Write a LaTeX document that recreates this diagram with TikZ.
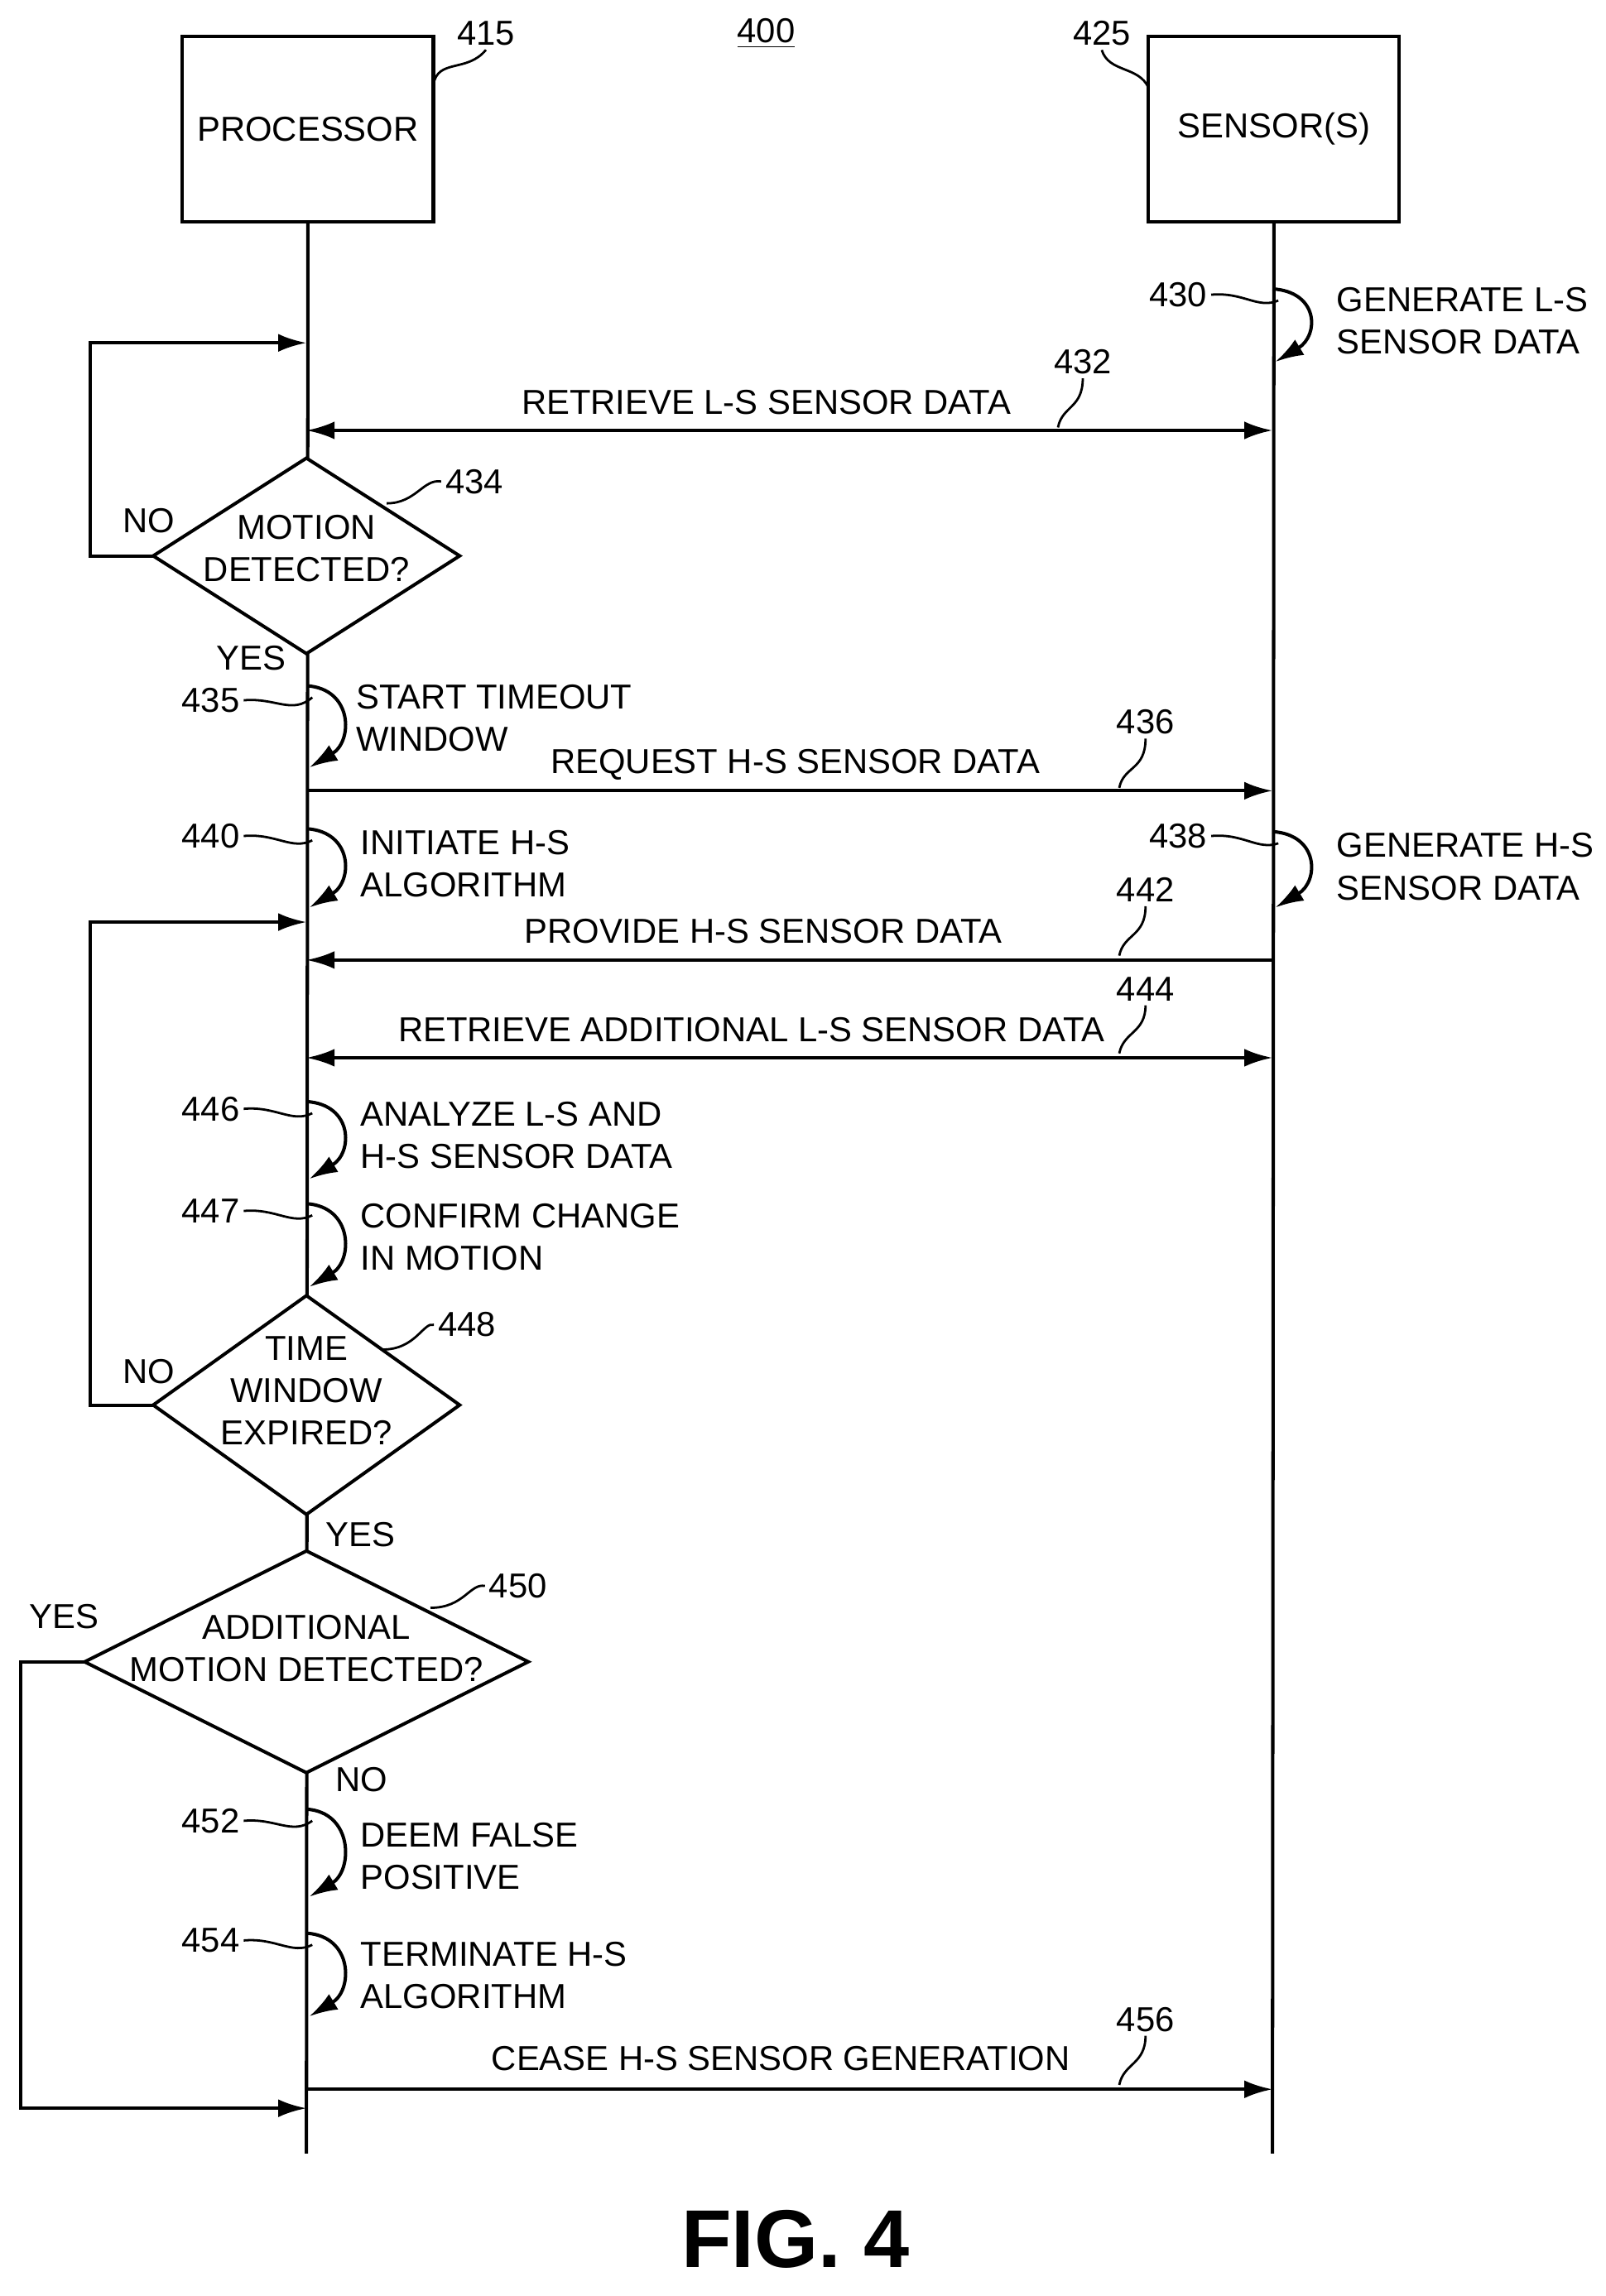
\documentclass[tikz,border=0pt]{standalone}
\usepackage{fontspec}
\setmainfont{Liberation Sans}
\usetikzlibrary{arrows.meta,shapes.geometric}
\begin{document}
\begin{tikzpicture}[x=0.02cm,y=-0.02cm,line width=1.3pt,
 txt/.style={font=\fontsize{13.5}{16.5}\selectfont,inner sep=0pt},
 lbl/.style={font=\fontsize{13.5}{16.5}\selectfont,inner sep=1pt},
 box/.style={draw,minimum width=3.44cm,minimum height=2.54cm,inner sep=0pt,font=\fontsize{13.5}{16.5}\selectfont},
 arr/.style={-{Latex[length=11pt,width=7pt]}},
 darr/.style={{Latex[length=11pt,width=7pt]}-{Latex[length=11pt,width=7pt]}},
 lead/.style={line width=0.9pt}]
\useasboundingbox (0,0) rectangle (1100,1573.7);
% boxes
\node[box] (proc) at (211,88.5) {PROCESSOR};
\node[box] (sens) at (873,88.5) {SENSOR(S)};
\node[lbl] (l415) at (333,23) {415};
\node[lbl] (l425) at (755,23) {425};
\node[lbl] (l400) at (525,23) {\underline{400}};
\draw[lead] (l415.south) .. controls (320,50) and (300,40) .. (297,58);
\draw[lead] (l425.south) .. controls (760,50) and (780,45) .. (787,60);
\coordinate (pb) at (210,1476);
\coordinate (sb) at (872,1476);
\draw (proc.south) -- (pb);
\draw (sens.south) -- (sb);
% self arrows
\newcommand{\selfarr}[6]{% x, y1, y2, label, labelx, labely
 \coordinate (s#4a) at (#1,#2); \coordinate (s#4b) at (#1+2,#3);
 \draw[arr] (s#4a) .. controls (#1+32,#2+2) and (#1+32,#3-18) .. (s#4b);
 \node[lbl,anchor=east] (n#4) at (#5,#6) {#4};
 \draw[lead] (n#4.east) .. controls (#5+22,#6-2) and (#1-10,#6+10) .. (#1+4,#2+8);}
% diamond: name, cx, cy, halfw, halfh
\newcommand{\dmd}[5]{%
 \coordinate (#1-n) at (#2,#3-#5); \coordinate (#1-s) at (#2,#3+#5);
 \coordinate (#1-w) at (#2-#4,#3); \coordinate (#1-e) at (#2+#4,#3);
 \draw[fill=white] (#1-n) -- (#1-e) -- (#1-s) -- (#1-w) -- cycle;}
\selfarr{872}{198}{248}{430}{830}{202}
\node[txt,anchor=west,align=left] at (915,220) {GENERATE L-S\\SENSOR DATA};
% 432
\coordinate (a432) at (210,295); \coordinate (b432) at (872,295);
\draw[darr] (a432) -- (b432);
\node[txt] at (525,276) {RETRIEVE L-S SENSOR DATA};
\node[lbl] (n432) at (742,248) {432};
\draw[lead] (n432.south) .. controls (742,280) and (728,278) .. (725,293);
% diamond 434
\dmd{d434}{210}{381}{105}{67}
\node[txt,align=center] at (210,376) {MOTION\\DETECTED?};
\coordinate (c1) at (62,381); \coordinate (c2) at (62,235); \coordinate (c3) at (210,235);
\draw[arr] (d434-w) -- (c1) -- (c2) -- (c3);
\node[txt] at (102,357) {NO};
\node[lbl] (n434) at (325,330) {434};
\draw[lead] (n434.west) .. controls (290,328) and (285,345) .. (265,345);
\node[txt] at (172,451) {YES};
% 435
\selfarr{210}{470}{526}{435}{167}{480}
\node[txt,anchor=west,align=left] at (243,492) {START TIMEOUT\\WINDOW};
% 436
\coordinate (a436) at (210,542); \coordinate (b436) at (872,542);
\draw[arr] (a436) -- (b436);
\node[txt] at (545,524) {REQUEST H-S SENSOR DATA};
\node[lbl] (n436) at (785,495) {436};
\draw[lead] (n436.south) .. controls (785,528) and (770,525) .. (767,540);
% 440, 438
\selfarr{210}{568}{622}{440}{167}{573}
\node[txt,anchor=west,align=left] at (246,592) {INITIATE H-S\\ALGORITHM};
\selfarr{872}{570}{622}{438}{830}{573}
\node[txt,anchor=west,align=left] at (915,594) {GENERATE H-S\\SENSOR DATA};
% 442
\coordinate (a442) at (872,658); \coordinate (b442) at (210,658);
\draw[arr] (a442) -- (b442);
\node[txt] at (523,638) {PROVIDE H-S SENSOR DATA};
\node[lbl] (n442) at (785,610) {442};
\draw[lead] (n442.south) .. controls (785,642) and (770,640) .. (767,655);
% 444
\coordinate (a444) at (210,725); \coordinate (b444) at (872,725);
\draw[darr] (a444) -- (b444);
\node[txt] at (515,706) {RETRIEVE ADDITIONAL L-S SENSOR DATA};
\node[lbl] (n444) at (785,678) {444};
\draw[lead] (n444.south) .. controls (785,708) and (770,707) .. (767,722);
% 446 447
\selfarr{210}{755}{808}{446}{167}{760}
\node[txt,anchor=west,align=left] at (246,778) {ANALYZE L-S AND\\H-S SENSOR DATA};
\selfarr{210}{825}{882}{447}{167}{830}
\node[txt,anchor=west,align=left] at (246,848) {CONFIRM CHANGE\\IN MOTION};
% diamond 448
\dmd{d448}{210}{963}{105}{75}
\node[txt,align=center] at (210,953) {TIME\\WINDOW\\EXPIRED?};
\coordinate (e1) at (62,963); \coordinate (e2) at (62,632); \coordinate (e3) at (210,632);
\draw[arr] (d448-w) -- (e1) -- (e2) -- (e3);
\node[txt] at (102,940) {NO};
\node[lbl] (n448) at (320,908) {448};
\draw[lead] (n448.west) .. controls (290,906) and (285,925) .. (262,925);
\node[txt] at (247,1052) {YES};
% diamond 450
\dmd{d450}{210}{1139}{152}{76}
\node[txt,align=center] at (210,1130) {ADDITIONAL\\MOTION DETECTED?};
\coordinate (f1) at (14,1139); \coordinate (f2) at (14,1445); \coordinate (f3) at (210,1445);
\draw[arr] (d450-w) -- (f1) -- (f2) -- (f3);
\node[txt] at (44,1108) {YES};
\node[lbl] (n450) at (355,1087) {450};
\draw[lead] (n450.west) .. controls (322,1085) and (318,1102) .. (295,1102);
\node[txt] at (248,1220) {NO};
% 452 454
\selfarr{210}{1240}{1300}{452}{167}{1248}
\node[txt,anchor=west,align=left] at (246,1272) {DEEM FALSE\\POSITIVE};
\selfarr{210}{1325}{1382}{454}{167}{1330}
\node[txt,anchor=west,align=left] at (246,1354) {TERMINATE H-S\\ALGORITHM};
% 456
\coordinate (a456) at (210,1432); \coordinate (b456) at (872,1432);
\draw[arr] (a456) -- (b456);
\node[txt] at (535,1411) {CEASE H-S SENSOR GENERATION};
\node[lbl] (n456) at (785,1384) {456};
\draw[lead] (n456.south) .. controls (785,1415) and (770,1414) .. (767,1429);
\node[font=\fontsize{32}{38}\selectfont\bfseries] (fig) at (545,1535) {FIG. 4};
\end{tikzpicture}
\end{document}
